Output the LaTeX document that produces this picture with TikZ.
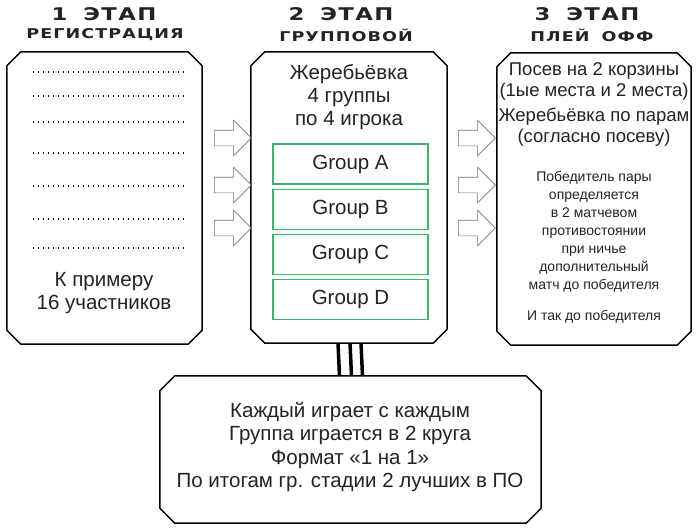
\documentclass[tikz,border=0pt]{standalone}
\usepackage{fontspec}
\setmainfont{Liberation Sans}
\newfontfamily\stagefont{DejaVu Sans}[FakeStretch=1.3, LetterSpace=8]
\usetikzlibrary{shapes.arrows}
\usetikzlibrary{positioning}
\definecolor{groupgreen}{RGB}{60,180,110}
\definecolor{ink}{RGB}{35,35,35}
\newcommand{\cutbox}[2][14pt]{%
  \draw[line width=1.5pt] ([xshift=#1]#2.north west) -- ([xshift=-#1]#2.north east)
    -- ([yshift=-#1]#2.north east) -- ([yshift=#1]#2.south east)
    -- ([xshift=-#1]#2.south east) -- ([xshift=#1]#2.south west)
    -- ([yshift=#1]#2.south west) -- ([yshift=-#1]#2.north west) -- cycle;}

\begin{document}
\begin{tikzpicture}[x=1pt,y=-1pt,
    stage/.style={rectangle, inner sep=0pt},
    group/.style={draw=groupgreen, line width=1.2pt, minimum width=155pt, minimum height=40pt, text=ink, font=\fontsize{20.5}{23}\selectfont},
    pass/.style={single arrow, draw=black!55, line width=0.6pt, minimum height=37pt, single arrow head extend=10pt, inner xsep=0pt, inner ysep=7.5pt},
    txt/.style={align=center, text=ink, font=\fontsize{20.5}{23.3}\selectfont},
    small/.style={align=center, text=ink, font=\fontsize{14}{18}\selectfont},
    title/.style={text=ink, font=\stagefont\bfseries\fontsize{17.5}{17.5}\selectfont},
    subtitle/.style={text=ink, font=\stagefont\bfseries\fontsize{13.5}{13.5}\selectfont},
    dots/.style={line width=1.2pt, dash pattern=on 1.2pt off 3.8pt}]
  \useasboundingbox (0,0) rectangle (700,528);

  \node[title] (t1) at (104,14) {1\hspace{16pt}ЭТАП};
  \node[subtitle] (s1) at (105,35) {РЕГИСТРАЦИЯ};
  \node[title] (t2) at (341,14) {2\hspace{16pt}ЭТАП};
  \node[subtitle] (s2) at (346,35) {ГРУППОВОЙ};
  \node[title] (t3) at (587,14) {3\hspace{16pt}ЭТАП};
  \node[subtitle] (s3) at (592,35) {ПЛЕЙ\hspace{12pt}ОФФ};

  \node[stage, minimum width=195pt, minimum height=292pt] (reg) at (104.5,198) {};
  \node[stage, minimum width=196pt, minimum height=291pt] (mid) at (349,197.5) {};
  \node[stage, minimum width=194pt, minimum height=292pt] (off) at (594,199) {};
  \node[stage, minimum width=381pt, minimum height=147pt] (bot) at (350.5,449.5) {};
  \cutbox{reg}
  \cutbox{mid}
  \cutbox{off}
  \cutbox[15pt]{bot}

  \foreach \y in {72,96,122,153,186,219,248}
    \draw[dots] (33,\y) -- (185,\y);
  \node[txt] (ex) at (104,293) {К примеру\\16 участников};

  \node[txt] (draw2) at (349,97) {Жеребьёвка\\4 группы\\по 4 игрока};
  \node[group] (ga) at (350.5,164) {Group A};
  \node[group, below=4pt of ga] (gb) {Group B};
  \node[group, below=4pt of gb] (gc) {Group C};
  \node[group, below=4pt of gc] (gd) {Group D};

  \node[txt, font=\fontsize{18.5}{21}\selectfont] (seed) at (594,81.5) {Посев на 2 корзины\\(1ые места и 2 места)};
  \node[txt, font=\fontsize{18.5}{21}\selectfont] (pairs) at (594,127.5) {Жеребьёвка по парам\\(согласно посеву)};
  \node[small] (rule) at (594,232) {Победитель пары\\определяется\\в 2 матчевом\\противостоянии\\при ничье\\дополнительный\\матч до победителя};
  \node[small] (fin) at (594,317) {И так до победителя};

  \node[txt] (fmt) at (350,447) {Каждый играет с каждым\\Группа играется в 2 круга\\Формат «1 на 1»\\По итогам гр. стадии 2 лучших в ПО};

  \foreach \y [count=\i] in {138,185,228} {
    \node[pass] (in\i) at (229,\y) {};
    \node[pass] (out\i) at (473,\y) {};
  }

  \foreach \dx in {-11,1,12}
    \draw[line width=3.5pt] ([xshift=\dx pt]mid.south) -- ([xshift=\dx pt]bot.north);
\end{tikzpicture}
\end{document}
